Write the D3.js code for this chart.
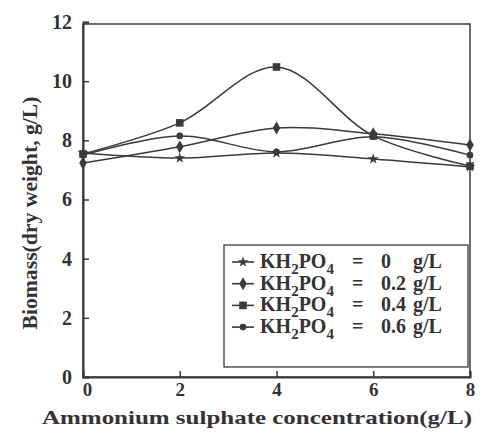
<!DOCTYPE html>
<html><head><meta charset="utf-8">
<script src="https://cdn.jsdelivr.net/npm/d3@7"></script>
<style>
body{margin:0;background:#fff;}
svg text{font-family:"Liberation Serif","Times New Roman","DejaVu Serif",serif !important;font-weight:bold;fill:#333;}
</style></head>
<body><svg id="c" width="484" height="442"></svg>
<script>
const xValues = [0, 2, 4, 6, 8];
const seriesLabels = ["0", "0.2", "0.4", "0.6"];
const kh0 = [7.57, 7.40, 7.57, 7.37, 7.10];
const kh02 = [7.23, 7.78, 8.42, 8.22, 7.84];
const kh04 = [7.54, 8.59, 10.48, 8.15, 7.13];
const kh06 = [7.50, 8.15, 7.61, 8.12, 7.50];
const xTicks = [0, 2, 4, 6, 8];
const yTicks = [0, 2, 4, 6, 8, 10, 12];

const series = [
  {label: seriesLabels[0], values: kh0, marker: "star", size: 3},
  {label: seriesLabels[1], values: kh02, marker: "diamond", size: 3.5},
  {label: seriesLabels[2], values: kh04, marker: "square", size: 3.8},
  {label: seriesLabels[3], values: kh06, marker: "circle", size: 3.3}
];

const svg = d3.select("#c");
const col = "#3a3a3a";
const x = d3.scaleLinear().domain([0, 8]).range([83, 470]);
const y = d3.scaleLinear().domain([0, 12]).range([377, 22]);

svg.append("rect").attr("x", 83).attr("y", 24).attr("width", 387).attr("height", 353)
  .attr("fill", "none").attr("stroke", col).attr("stroke-width", 1.5);

const yAxis = d3.axisLeft(y).tickValues(yTicks).tickSize(-6).tickPadding(11).tickFormat(d3.format("d"));
const gy = svg.append("g").attr("transform", "translate(83,0)").call(yAxis);
gy.select(".domain").attr("stroke", col).attr("stroke-width", 2);
gy.selectAll(".tick line").attr("stroke", col).attr("stroke-width", 1.5);
gy.selectAll(".tick text").attr("font-size", 20).attr("fill", "#333");

const xAxis = d3.axisBottom(x).tickValues(xTicks).tickSize(-6).tickPadding(6).tickFormat(d3.format("d"));
const gx = svg.append("g").attr("transform", "translate(0,377)").call(xAxis);
gx.select(".domain").attr("stroke", col).attr("stroke-width", 2);
gx.selectAll(".tick line").attr("stroke", col).attr("stroke-width", 1.5);
gx.selectAll(".tick text").attr("font-size", 19).attr("fill", "#333");
gx.selectAll(".tick text").filter(d => d === 0).attr("dx", 4);

svg.append("text").attr("x", 257).attr("y", 424).attr("text-anchor", "middle")
  .attr("font-size", 19).attr("textLength", 430).attr("lengthAdjust", "spacingAndGlyphs")
  .text("Ammonium sulphate concentration(g/L)");
svg.append("text").attr("transform", "translate(37,213) rotate(-90)").attr("text-anchor", "middle")
  .attr("font-size", 20).attr("textLength", 233).attr("lengthAdjust", "spacingAndGlyphs")
  .text("Biomass(dry weight, g/L)");

function drawMarker(g, type, cx, cy, s) {
  if (type === "circle") {
    g.append("circle").attr("cx", cx).attr("cy", cy).attr("r", s).attr("fill", col);
  } else {
    const sym = {star: d3.symbolStar, diamond: d3.symbolDiamond, square: d3.symbolSquare}[type];
    g.append("path").attr("d", d3.symbol().type(sym).size(s * s * 4))
      .attr("transform", `translate(${cx},${cy})`).attr("fill", col);
  }
}

const line = d3.line().x((d, i) => x(xValues[i])).y(d => y(d)).curve(d3.curveCatmullRom.alpha(0.5));
const plot = svg.append("g");
series.forEach(s => {
  plot.append("path").attr("d", line(s.values)).attr("fill", "none").attr("stroke", col).attr("stroke-width", 1.5);
  s.values.forEach((v, i) => drawMarker(plot, s.marker, x(xValues[i]), y(v), s.size));
});

const lg = svg.append("g");
lg.append("rect").attr("x", 224).attr("y", 245).attr("width", 244).attr("height", 122)
  .attr("fill", "#fff").attr("stroke", col).attr("stroke-width", 1.3);
series.forEach((s, i) => {
  const cy = 262 + i * 21.7;
  lg.append("line").attr("x1", 232).attr("x2", 254).attr("y1", cy).attr("y2", cy).attr("stroke", col).attr("stroke-width", 1.6);
  drawMarker(lg, s.marker, 243, cy, s.size);
  const t = lg.append("text").attr("x", 260).attr("y", cy + 6).attr("font-size", 20);
  t.append("tspan").text("KH");
  t.append("tspan").attr("dy", 6).attr("font-size", 15).text("2");
  t.append("tspan").attr("dy", -6).text("PO");
  t.append("tspan").attr("dy", 6).attr("font-size", 15).text("4");
  lg.append("text").attr("x", 352).attr("y", cy + 6).attr("font-size", 20).text("=");
  lg.append("text").attr("x", 381).attr("y", cy + 6).attr("font-size", 20).text(s.label);
  lg.append("text").attr("x", 413).attr("y", cy + 6).attr("font-size", 20).text("g/L");
});
</script></body></html>
